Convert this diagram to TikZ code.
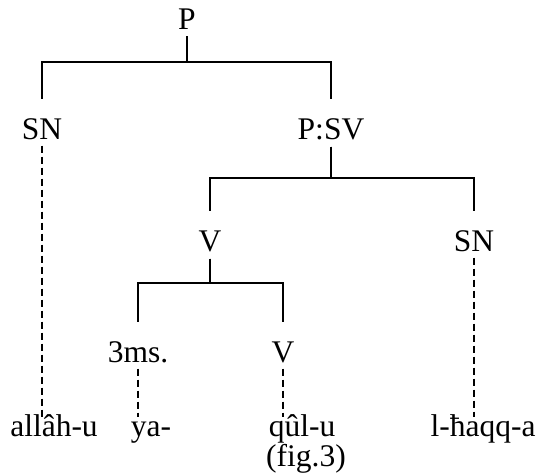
\documentclass[tikz,border=0pt]{standalone}
\usepackage{fontspec}
\setmainfont{Liberation Serif}
\begin{document}
\begin{tikzpicture}[
        x=1pt, y=-1pt,
        every node/.style={font=\fontsize{31.5}{38}\selectfont},
        cat/.style={anchor=base, inner sep=3pt},
        leaf/.style={anchor=base, inner sep=0pt, text height=20pt, text depth=6pt},
        branch/.style={line width=1.8pt, shorten <=3pt, shorten >=17pt},
        link/.style={line width=1.8pt, dash pattern=on 7pt off 4pt, shorten <=2pt}
    ]
        \useasboundingbox (0,0) rectangle (542,476);

        \node[cat] (P) at (187,30) {P};
        \node[cat] (SN1) at (42,140) {SN};
        \node[cat] (PSV) at (331,140) {P:SV};
        \node[cat] (V1) at (210,252) {V};
        \node[cat] (SN2) at (474,252) {SN};
        \node[cat] (ms) at (138,363) {3ms.};
        \node[cat] (V2) at (283,363) {V};

        \node[leaf] (allah) at (54,437) {all\^ah-u};
        \node[leaf] (ya) at (151,437) {ya-};
        \node[leaf] (qul) at (302,437) {q\^ul-u};
        \node[leaf] (haqq) at (483,437) {l-ħaqq-a};
        \node[anchor=base, inner sep=0pt] (fig) at (306,467) {(fig.3)};

        \draw[branch] (P.south) -- ++(0,29) -| (SN1.north);
        \draw[branch] (P.south) -- ++(0,29) -| (PSV.north);
        \draw[branch] (PSV.south) -- ++(0,34) -| (V1.north);
        \draw[branch] (PSV.south) -- ++(0,34) -| (SN2.north);
        \draw[branch] (V1.south) -- ++(0,27) -| (ms.north);
        \draw[branch] (V1.south) -- ++(0,27) -| (V2.north);

        \draw[link] (SN1.south) -- (SN1.south |- allah.north);
        \draw[link] (ms.south) -- (ms.south |- ya.north);
        \draw[link] (V2.south) -- (V2.south |- qul.north);
        \draw[link] (SN2.south) -- (SN2.south |- haqq.north);
    \end{tikzpicture}
\end{document}
